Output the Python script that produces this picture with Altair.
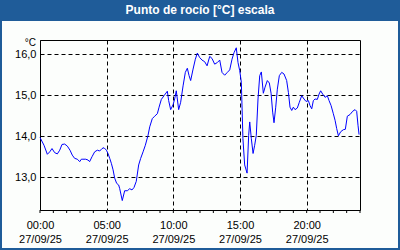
import altair as alt
import pandas as pd

TITLE = "Punto de rocío [°C] escala"
UNIT = "°C"
DATE_LABEL = "27/09/25"

hours = [0.0, 0.3, 0.55, 0.73, 0.9, 1.1, 1.3, 1.48, 1.65, 1.85, 2.05, 2.25, 2.42, 2.6, 2.8, 2.98,
         3.1, 3.22, 3.43, 3.6, 3.72, 3.9, 4.1, 4.3, 4.48, 4.65, 4.8, 4.98, 5.1, 5.23, 5.35, 5.48,
         5.6, 5.75, 5.9, 5.98, 6.17, 6.35, 6.55, 6.73, 6.9, 7.05, 7.22, 7.4, 7.55, 7.73, 7.9, 8.1,
         8.23, 8.42, 8.6, 8.8, 8.93, 9.1, 9.3, 9.55, 9.65, 9.8, 9.98, 10.1, 10.22, 10.4, 10.55,
         10.73, 10.9, 11.05, 11.18, 11.3, 11.48, 11.65, 11.8, 11.98, 12.15, 12.35, 12.53, 12.73,
         12.9, 13.1, 13.3, 13.48, 13.65, 13.85, 14.05, 14.23, 14.4, 14.55, 14.72, 14.85, 14.98,
         15.1, 15.22, 15.35, 15.53, 15.65, 15.73, 15.85, 15.98, 16.1, 16.22, 16.35, 16.48, 16.6,
         16.75, 16.88, 17.05, 17.2, 17.33, 17.45, 17.55, 17.68, 17.8, 17.95, 18.13, 18.3, 18.5,
         18.63, 18.75, 18.88, 19.0, 19.13, 19.3, 19.45, 19.63, 19.8, 19.95, 20.13, 20.25, 20.38,
         20.5, 20.63, 20.8, 20.93, 21.05, 21.2, 21.38, 21.55, 21.68, 21.83, 22.0, 22.13, 22.25,
         22.38, 22.55, 22.75, 22.9, 23.05, 23.25, 23.45, 23.63, 23.75, 23.85, 23.93]
dew = [13.97, 13.78, 13.56, 13.62, 13.70, 13.60, 13.57, 13.66, 13.80, 13.81, 13.76, 13.66, 13.54,
       13.46, 13.44, 13.38, 13.44, 13.44, 13.44, 13.42, 13.38, 13.50, 13.62, 13.66, 13.64, 13.70,
       13.72, 13.66, 13.58, 13.46, 13.34, 13.18, 12.98, 12.85, 12.81, 12.72, 12.43, 12.67, 12.67,
       12.72, 12.69, 12.75, 12.90, 13.30, 13.46, 13.62, 13.78, 14.02, 14.23, 14.43, 14.49, 14.55,
       14.71, 14.90, 14.99, 15.10, 14.87, 14.65, 14.77, 14.91, 15.11, 14.65, 14.83, 15.23, 15.56,
       15.66, 15.48, 15.36, 15.64, 15.88, 16.03, 15.92, 15.86, 15.82, 15.72, 15.95, 15.90, 15.76,
       15.80, 15.86, 15.56, 15.49, 15.56, 15.62, 15.88, 16.04, 16.16, 15.80, 15.60, 15.32, 13.94,
       13.30, 13.10, 14.02, 14.35, 13.94, 13.58, 13.78, 14.02, 14.91, 15.48, 15.57, 15.05, 15.20,
       15.36, 15.30, 15.05, 14.59, 14.33, 14.71, 15.15, 15.48, 15.56, 15.52, 15.36, 15.07, 14.71,
       14.63, 14.71, 14.65, 14.69, 14.83, 14.99, 14.91, 14.85, 14.87, 14.75, 14.67, 14.87, 14.91,
       14.90, 15.03, 15.11, 15.03, 14.95, 14.99, 14.87, 14.75, 14.55, 14.39, 14.19, 14.01, 14.11,
       14.16, 14.17, 14.49, 14.53, 14.61, 14.65, 14.61, 14.27, 14.04]

y_ticks = [13, 14, 15, 16]
x_major = [0, 5, 10, 15, 20]
x_minor = list(range(0, 25))

FONT = "Liberation Sans"
BLUE = "#1f5c99"

df = pd.DataFrame({"h": hours, "v": dew})
minor_df = pd.DataFrame({"h": x_minor})
one = pd.DataFrame({"a": [0]})

xscale = alt.Scale(domain=[0, 24], nice=False, zero=False)
yscale = alt.Scale(domain=[12.2, 16.35], nice=False, zero=False)

x_axis = alt.Axis(values=x_major, grid=True, gridDash=[4, 3], gridColor="black", gridOpacity=1,
                  domain=False, ticks=False, labelPadding=9, labelFont=FONT, labelFontSize=11,
                  labelColor="black", labelLineHeight=14, title=None, labelFlush=False,
                  labelExpr="[(datum.value < 10 ? '0' : '') + datum.value + ':00', '" + DATE_LABEL + "']")
y_axis = alt.Axis(values=y_ticks, grid=True, gridDash=[4, 3], gridColor="black", gridOpacity=1,
                  domain=False, ticks=False, labelPadding=4, labelFont=FONT, labelFontSize=11,
                  labelColor="black", title=None,
                  labelExpr="replace(format(datum.value, '.1f'), '.', ',')")

line = alt.Chart(df).mark_line(color="#0000ff", strokeWidth=1).encode(
    x=alt.X("h:Q", scale=xscale, axis=x_axis),
    y=alt.Y("v:Q", scale=yscale, axis=y_axis),
)

minor = alt.Chart(minor_df).mark_rule(color="black", strokeWidth=1).encode(
    x=alt.X("h:Q", scale=xscale),
    y=alt.value(170), y2=alt.value(173),
)

title_bar = alt.Chart(one).mark_rect(color=BLUE).encode(
    x=alt.value(-40), x2=alt.value(360), y=alt.value(-40), y2=alt.value(-19)
)
border = alt.Chart(one).mark_rect(filled=False, stroke=BLUE, strokeWidth=4).encode(
    x=alt.value(-40), x2=alt.value(360), y=alt.value(-40), y2=alt.value(210)
)
title_text = alt.Chart(one).mark_text(color="white", font=FONT, fontSize=12, fontWeight="bold",
                                      align="center", baseline="middle").encode(
    x=alt.value(160), y=alt.value(-30), text=alt.value(TITLE)
)
unit_text = alt.Chart(one).mark_text(color="black", font=FONT, fontSize=10,
                                     align="right", baseline="middle").encode(
    x=alt.value(-4), y=alt.value(3), text=alt.value(UNIT)
)

chart = alt.layer(line, minor, title_bar, border, title_text, unit_text).properties(
    width=320, height=170,
    padding={"left": 40, "top": 40, "right": 40, "bottom": 40},
    autosize=alt.AutoSizeParams(type="none"),
    background="#fcfefc",
).configure_view(stroke="black", strokeWidth=1)

chart.save("out.html", embed_options={"renderer": "svg", "actions": False})
